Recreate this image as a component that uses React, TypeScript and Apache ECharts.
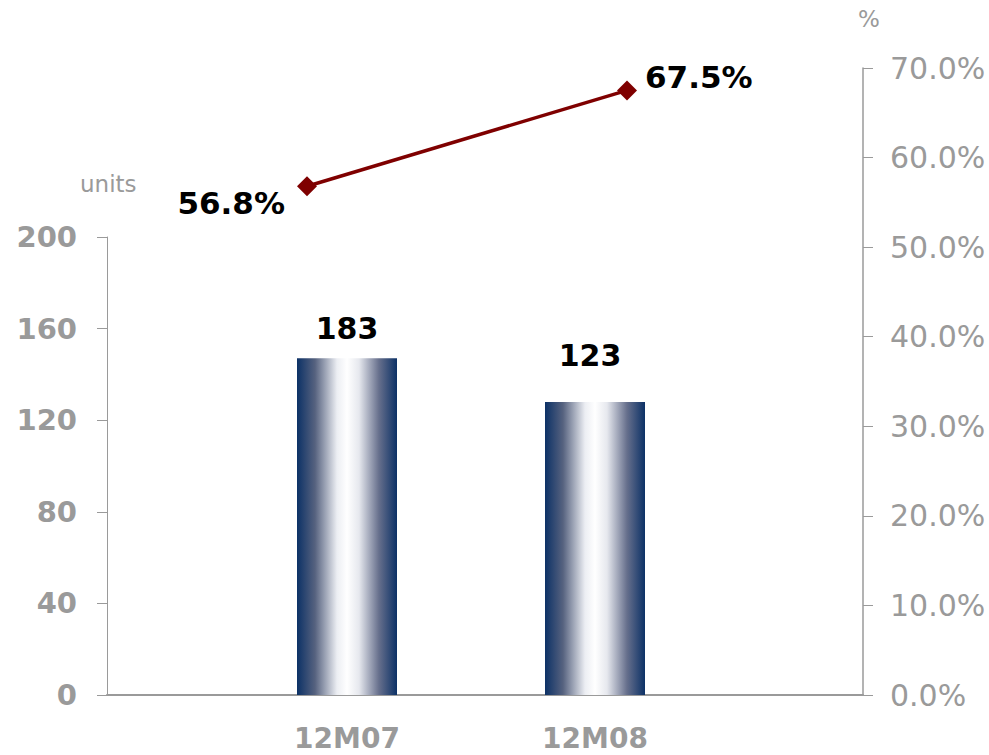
import React, { useEffect, useRef } from "react";
import * as echarts from "echarts";

const categories = ["12M07", "12M08"];
const barHeights = [147, 128];
const barLabels = ["183", "123"];
const barLabelDistance = [15, 31];
const barLabelOffsetX = [0, -5];
const ratioValues = [56.8, 67.5];
const ratioLabels = ["56.8%", "67.5%"];
const leftTicks = { min: 0, max: 200, interval: 40 };
const rightTicks = { min: 0, max: 70, interval: 10 };

const FONT = "DejaVu Sans";
const GRAY = "#9a9a9a";

export default function App() {
  const ref = useRef<HTMLDivElement>(null);
  useEffect(() => {
    if (!ref.current) return;
    const chart = echarts.init(ref.current, null, { renderer: "svg" });
    const barGradient = new echarts.graphic.LinearGradient(0, 0, 1, 0, [
      { offset: 0, color: "#0c3166" },
      { offset: 0.18, color: "#56627f" },
      { offset: 0.4, color: "#eceef3" },
      { offset: 0.5, color: "#ffffff" },
      { offset: 0.62, color: "#e6e8ee" },
      { offset: 0.82, color: "#666f8c" },
      { offset: 1, color: "#0c3166" },
    ]);
    chart.setOption({
      animation: false,
      backgroundColor: "#ffffff",
      grid: [
        { left: 107, right: 126, top: 237, bottom: 60 },
        { left: 307, right: 362, top: 68, bottom: 60 },
        { left: 99, right: 146, top: 237, bottom: 60 },
      ],
      xAxis: [
        {
          gridIndex: 0,
          type: "category",
          data: ["", ""],
          axisLine: { show: true, lineStyle: { color: GRAY, width: 2 } },
          axisTick: { show: false },
          axisLabel: { show: false },
        },
        {
          gridIndex: 1,
          type: "category",
          data: categories,
          boundaryGap: false,
          show: false,
        },
        {
          gridIndex: 2,
          type: "category",
          data: ["", ...categories, ""],
          boundaryGap: false,
          axisLine: { show: false },
          axisTick: { show: false },
          axisLabel: {
            show: true,
            interval: 0,
            margin: 28,
            lineHeight: 30,
            color: GRAY,
            fontFamily: FONT,
            fontWeight: "bold",
            fontSize: 28,
          },
        },
      ],
      yAxis: [
        {
          gridIndex: 0,
          type: "value",
          position: "left",
          min: leftTicks.min,
          max: leftTicks.max,
          interval: leftTicks.interval,
          splitLine: { show: false },
          axisLine: { show: true, lineStyle: { color: GRAY, width: 1 } },
          axisTick: { show: true, length: 10, lineStyle: { color: GRAY } },
          axisLabel: {
            margin: 30,
            color: GRAY,
            fontFamily: FONT,
            fontWeight: "bold",
            fontSize: 29,
          },
        },
        {
          gridIndex: 1,
          type: "value",
          position: "right",
          offset: 236,
          min: rightTicks.min,
          max: rightTicks.max,
          interval: rightTicks.interval,
          splitLine: { show: false },
          axisLine: { show: true, lineStyle: { color: GRAY, width: 1.5 } },
          axisTick: { show: true, length: 10, lineStyle: { color: GRAY } },
          axisLabel: {
            margin: 27,
            color: GRAY,
            fontFamily: FONT,
            fontSize: 30,
            formatter: (v: number) => v.toFixed(1) + "%",
          },
        },
        {
          gridIndex: 2,
          type: "value",
          min: leftTicks.min,
          max: leftTicks.max,
          show: false,
        },
      ],
      series: [
        {
          type: "bar",
          xAxisIndex: 2,
          yAxisIndex: 2,
          barWidth: 100,
          data: barHeights.map((v, i) => ({
            value: [categories[i], v],
            label: {
              show: true,
              position: "top",
              distance: barLabelDistance[i],
              offset: [barLabelOffsetX[i], 0],
              formatter: barLabels[i],
              color: "#000",
              fontFamily: FONT,
              fontWeight: "bold",
              fontSize: 30,
            },
          })),
          itemStyle: { color: barGradient },
        },
        {
          type: "line",
          xAxisIndex: 1,
          yAxisIndex: 1,
          symbol: "diamond",
          symbolSize: 20,
          lineStyle: { color: "#7f0000", width: 3.5 },
          itemStyle: { color: "#7f0000" },
          data: ratioValues.map((v, i) => ({
            value: v,
            label: {
              show: true,
              position: i === 0 ? "left" : "right",
              distance: i === 0 ? 12 : 8,
              offset: i === 0 ? [0, 17] : [0, -13],
              formatter: ratioLabels[i],
              color: "#000",
              fontFamily: FONT,
              fontWeight: "bold",
              fontSize: 31,
            },
          })),
        },
      ],
      graphic: [
        {
          type: "text",
          left: 80,
          top: 172,
          style: { text: "units", fill: GRAY, font: `23px '${FONT}'` },
        },
        {
          type: "text",
          left: 858,
          top: 7,
          style: { text: "%", fill: GRAY, font: `23px '${FONT}'` },
        },
      ],
    });
    return () => chart.dispose();
  }, []);
  return (
    <div
      ref={ref}
      style={{ position: "fixed", left: 0, top: 0, width: 989, height: 755 }}
    />
  );
}
